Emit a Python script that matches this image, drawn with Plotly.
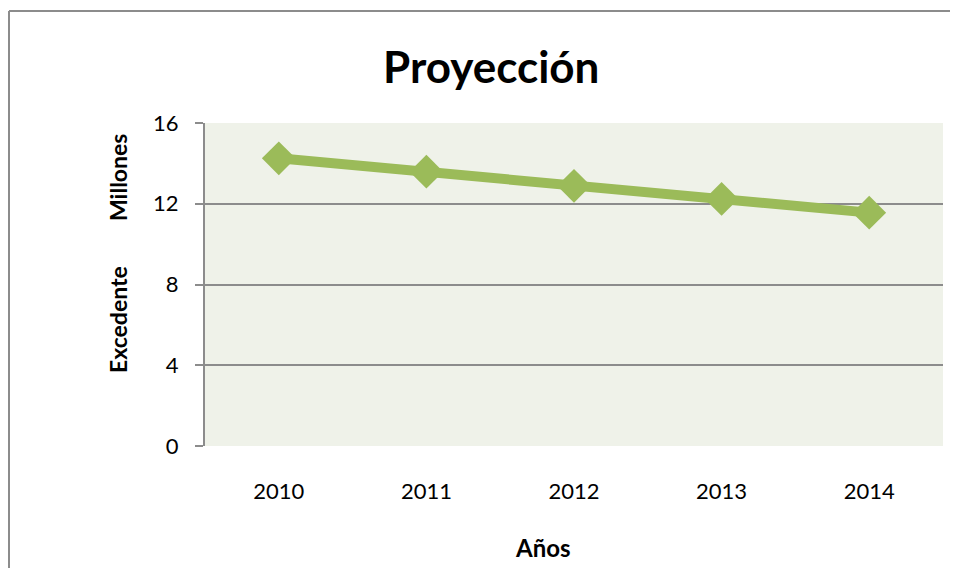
import plotly.graph_objects as go

years = ["2010", "2011", "2012", "2013", "2014"]
excedente = [14.25, 13.59, 12.89, 12.24, 11.56]
y_ticks = [0, 4, 8, 12, 16]

# page has an 8px body margin, so the figure is drawn a bit smaller
W, H = 950, 560
OFF = 8
L, R, T, B = 197, 15, 115, 122
pw, ph = W - L - R, H - T - B


def px(x):
    # page pixel -> paper x
    return (x - OFF - L) / pw


def py(y):
    # page pixel -> paper y
    return (H - B - (y - OFF)) / ph


fig = go.Figure()
fig.add_trace(go.Scatter(
    x=years, y=excedente, mode="lines+markers",
    line=dict(color="#9BBB59", width=10),
    marker=dict(symbol="diamond", size=26, color="#9BBB59"),
    showlegend=False,
))

gray = "#8C8C8C"
font = "Lato, 'Open Sans', sans-serif"


def label(text, x, y, size, angle=0):
    return dict(text=text, xref="paper", yref="paper", x=px(x), y=py(y),
                xanchor="center", yanchor="middle", showarrow=False,
                textangle=angle, font=dict(size=size))


# chart frame: only its left and top edges fall inside the picture
frame = [
    dict(type="line", xref="paper", yref="paper",
         x0=px(9), x1=px(9), y0=py(11), y1=py(600),
         line=dict(color=gray, width=2), layer="below"),
    dict(type="line", xref="paper", yref="paper",
         x0=px(9), x1=px(958), y0=py(11), y1=py(11),
         line=dict(color=gray, width=2), layer="below"),
]

fig.update_layout(
    width=W, height=H,
    margin=dict(l=L, r=R, t=T, b=B),
    paper_bgcolor="white",
    plot_bgcolor="#EFF2E9",
    font=dict(family=font, color="black"),
    xaxis=dict(
        range=[-0.5, 4.5],
        showgrid=False, showline=False, ticks="",
        tickfont=dict(size=22), ticklabelstandoff=30,
    ),
    yaxis=dict(
        range=[0, 16], tickvals=y_ticks,
        showgrid=True, gridcolor=gray, gridwidth=2,
        showline=True, linecolor=gray, linewidth=2,
        ticks="outside", ticklen=8, tickcolor=gray, tickwidth=2,
        tickfont=dict(size=22), ticklabelstandoff=12,
        zeroline=False,
    ),
    shapes=frame,
    annotations=[
        label("<b>Proyección</b>", 491, 66, 44),
        label("<b>Años</b>", 543, 547, 24),
        label("<b>Excedente</b>", 118, 320, 23, -90),
        label("<b>Millones</b>", 118, 178, 23, -90),
    ],
)

fig.write_html("out.html")
